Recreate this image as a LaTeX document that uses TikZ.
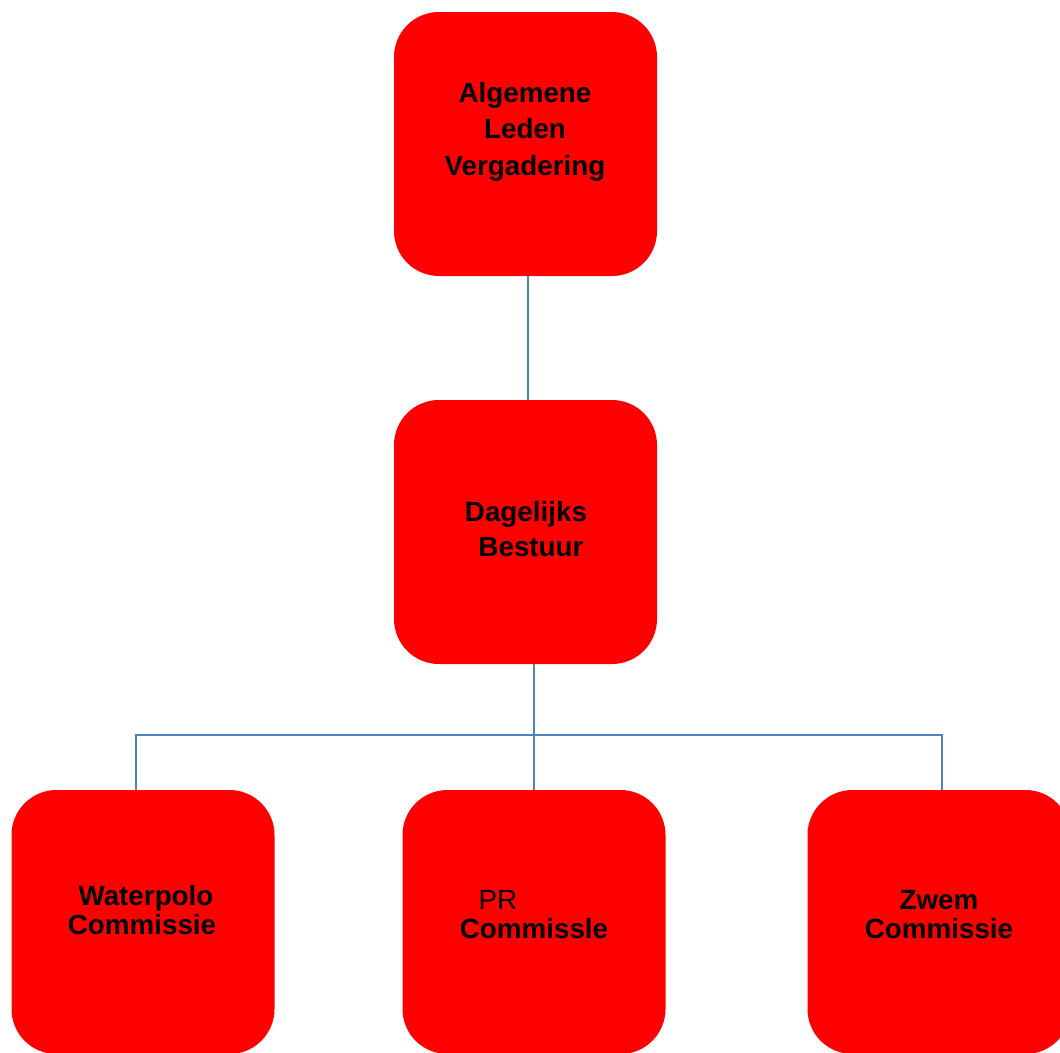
\documentclass[tikz,border=0pt]{standalone}
\usepackage{fontspec}
\setmainfont{Liberation Sans}
\definecolor{boxred}{HTML}{FF0000}
\definecolor{connblue}{HTML}{4F81BD}
\begin{document}
\begin{tikzpicture}[x=1pt,y=-1pt,
  orgbox/.style={draw=none,fill=boxred,rounded corners=45pt,minimum width=263pt,minimum height=264pt,inner sep=0pt},
  conn/.style={draw=connblue,line width=1.6pt},
  lbl/.style={anchor=base,inner sep=0pt,font=\fontsize{27.8}{33}\selectfont\bfseries},
  lblreg/.style={anchor=base,inner sep=0pt,font=\fontsize{27.8}{33}\selectfont}]
\useasboundingbox (0,0) rectangle (1060,1052);
\clip (0,0) rectangle (1060,1052);
% boxes
\node[orgbox] (alv) at (525.5,144) {};
\node[orgbox] (db) at (525.5,532) {};
\node[orgbox] (wp) at (143,922) {};
\node[orgbox] (pr) at (534,922) {};
\node[orgbox] (zw) at (939,922) {};
% connectors
\coordinate (bus) at (0,735);
\draw[conn] ([xshift=2.5pt]alv.south) -- ([xshift=2.5pt]alv.south |- db.north);
\draw[conn] (db.south -| pr.north) -- (pr.north);
\draw[conn] ([xshift=-7pt]wp.north) -- ([xshift=-7pt]wp.north |- bus) -- ([xshift=3pt]zw.north |- bus) -- ([xshift=3pt]zw.north);
% labels
\node[lbl] (t1) at (525,102) {Algemene};
\node[lbl] (t2) at (525,138) {Leden};
\node[lbl] (t3) at (525,175) {Vergadering};
\node[lbl] (t4) at (526,521) {Dagelijks};
\node[lbl] (t5) at (531,556) {Bestuur};
\node[lbl] (t6) at (146,905) {Waterpolo};
\node[lbl] (t7) at (142,934) {Commissie};
\node[lblreg] (t8) at (498,909) {PR};
\node[lbl] (t9) at (534,938) {Commissle};
\node[lbl] (t10) at (939,909) {Zwem};
\node[lbl] (t11) at (939,938) {Commissie};
\end{tikzpicture}
\end{document}
